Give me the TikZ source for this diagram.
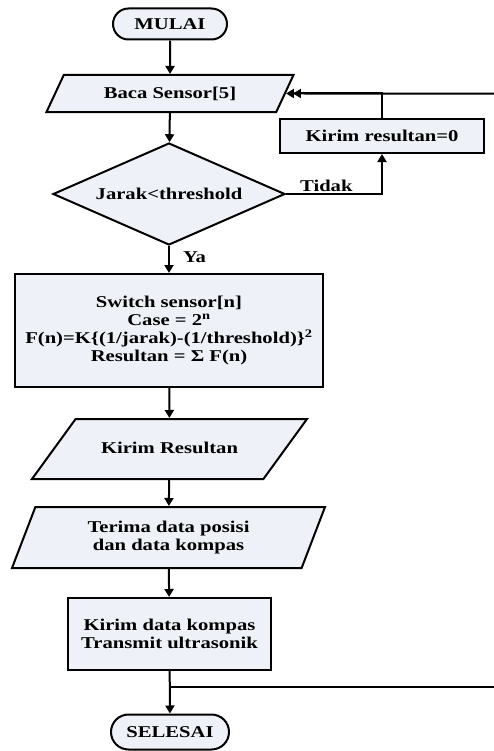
\documentclass[tikz,border=0pt]{standalone}
\usepackage{fontspec}
\setmainfont{Liberation Serif}[FakeStretch=1.25]
\usepackage{tikz}
\usetikzlibrary{shapes,arrows.meta}
\definecolor{isian}{RGB}{238,241,247}

\begin{document}
\begin{tikzpicture}[x=1bp,y=-1bp,line width=2bp,
  every node/.style={font=\bfseries\fontsize{16.5bp}{17.7bp}\selectfont,align=center,inner sep=1bp},
  ujung/.style={rounded rectangle,draw,fill=isian},
  proses/.style={rectangle,draw,fill=isian},
  io/.style={trapezium,draw,fill=isian,trapezium stretches body,text height=12bp,text depth=3bp},
  pilih/.style={diamond,draw,fill=isian,aspect=2.27},
  panah/.style={-{Triangle[length=8bp,width=9bp]}}]
\useasboundingbox (0,0) rectangle (494,751);
\node[ujung,minimum width=116bp,minimum height=31bp] (mulai) at (170,24) {MULAI};
\node[io,trapezium left angle=65,trapezium right angle=115,minimum width=247bp,inner ysep=11bp] (baca) at (170,93.5) {Baca Sensor[5]};
\node[proses,minimum width=204bp,minimum height=34bp] (nol) at (382,136) {Kirim resultan=0};
\node[pilih,minimum width=232bp,minimum height=102bp] (cek) at (169,194) {Jarak<threshold};
\node[proses,minimum width=308bp,minimum height=113bp] (hitung) at (169,330.5)
  {Switch sensor[n]\\ Case = 2\textsuperscript{n}\\ F(n)=K\{(1/jarak)-(1/threshold)\}\textsuperscript{2}\\ Resultan = Σ F(n)};
\node[io,trapezium left angle=54,trapezium right angle=126,minimum width=275bp,inner ysep=22.5bp] (kirim) at (169.5,449) {Kirim Resultan};
\node[io,trapezium left angle=56,trapezium right angle=124,minimum width=313bp,minimum height=61bp,text height=,text depth=] (terima) at (168.5,537.5) {Terima data posisi\\ dan data kompas};
\node[proses,minimum width=203bp,minimum height=72bp] (kompas) at (169.5,634) {Kirim data kompas\\ Transmit ultrasonik};
\node[ujung,minimum width=120bp,minimum height=35bp] (selesai) at (170,732) {SELESAI};
\coordinate (masuk) at (494,93.5);
\coordinate (cabang) at (170,687);
\coordinate (keluar) at (494,687);

\draw[panah] (mulai) -- (baca);
\draw[panah] (baca) -- (cek);
\draw[panah] (cek.east) -| (nol.south) node[pos=0.21,above] (tidak) {Tidak};
\draw[panah] (nol.north) |- ([xshift=7bp]baca.east);
\draw[panah] (masuk) -- (baca.east);
\draw[panah] (cek) -- (hitung) node[pos=0.42,right,xshift=12bp] (ya) {Ya};
\draw[panah] (hitung) -- (kirim);
\draw[panah] (kirim) -- (terima);
\draw[panah] (terima) -- (kompas);
\draw[panah] (kompas) -- (selesai);
\draw (cabang) -- (keluar);
\end{tikzpicture}
\end{document}
